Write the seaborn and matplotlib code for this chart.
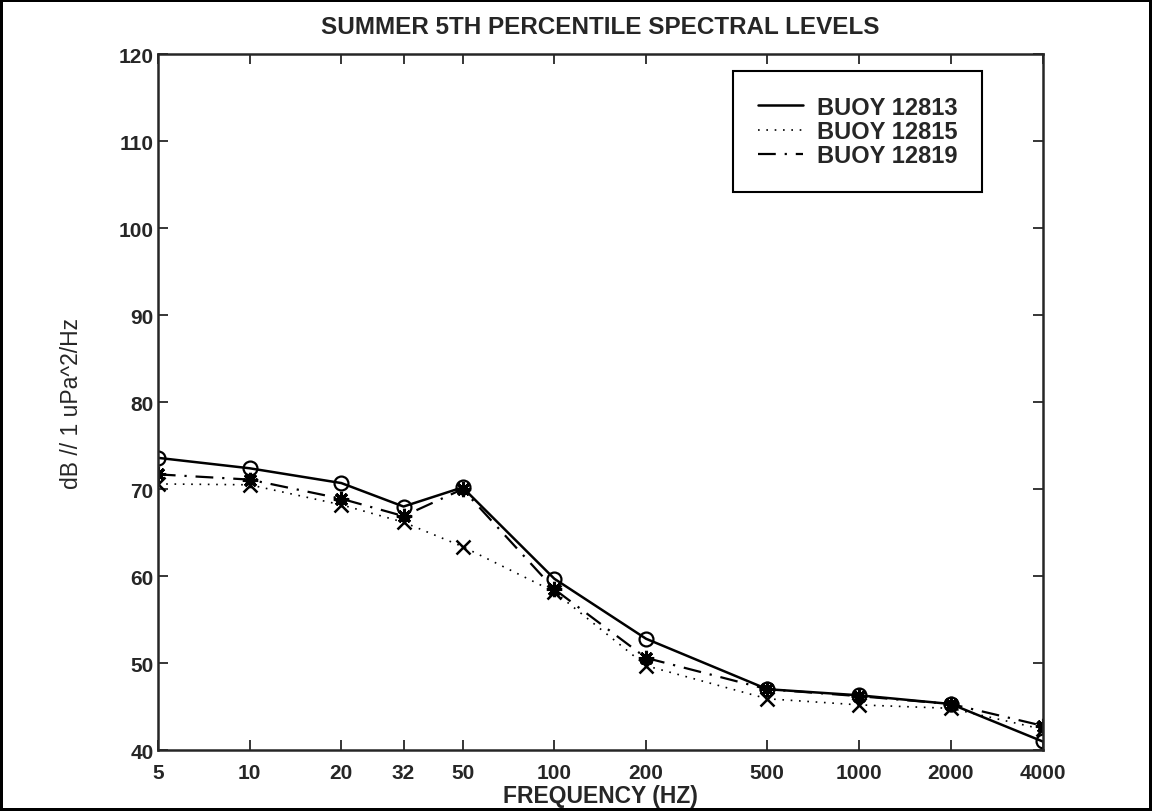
import matplotlib
matplotlib.use("Agg")
import matplotlib.pyplot as plt
from matplotlib.lines import Line2D
import seaborn as sns
import pandas as pd

# Frequency bands (Hz) and 5th percentile spectral levels per buoy (dB // 1 uPa^2/Hz)
freqs = [5, 10, 20, 32, 50, 100, 200, 500, 1000, 2000, 4000]
buoy_12813 = [73.6, 72.4, 70.7, 68.0, 70.2, 59.7, 52.8, 47.0, 46.3, 45.3, 41.0]
buoy_12815 = [70.6, 70.5, 68.2, 66.2, 63.4, 58.2, 49.7, 45.9, 45.2, 44.8, 42.4]
buoy_12819 = [71.7, 71.1, 68.9, 66.9, 70.0, 58.5, 50.6, 47.0, 46.2, 45.3, 42.8]
series_names = ["BUOY 12813", "BUOY 12815", "BUOY 12819"]
y_ticks = [40, 50, 60, 70, 80, 90, 100, 110, 120]

sns.set_style("ticks")
plt.rcParams["font.family"] = ["Liberation Sans", "DejaVu Sans"]
plt.rcParams["xtick.direction"] = "in"
plt.rcParams["ytick.direction"] = "in"

fig = plt.figure(figsize=(11.52, 8.12), dpi=100)
fig.patch.set_edgecolor("black")
fig.patch.set_linewidth(3)
ax = fig.add_axes([0.137, 0.075, 0.768, 0.857])

dotted = (0, (1, 4))
dashdot = (0, (8, 4, 1, 4))
styles = [
    dict(linestyle="-", marker="o", markerfacecolor="none", markeredgewidth=1.6,
         markersize=10, linewidth=1.8),
    dict(linestyle=dotted, marker="x", markeredgewidth=1.8,
         markersize=10, linewidth=1.2),
    dict(linestyle=dashdot, marker=(8, 2, 0), markeredgewidth=2.2,
         markersize=11, linewidth=1.6),
]

for name, vals, st in zip(series_names, [buoy_12813, buoy_12815, buoy_12819], styles):
    df = pd.DataFrame({"freq": freqs, "level": vals})
    sns.lineplot(data=df, x="freq", y="level", ax=ax, color="black",
                 markeredgecolor="black", **st)

ax.set_xscale("log")
ax.set_xlim(5, 4000)
ax.set_ylim(40, 120)
ax.set_xticks(freqs)
ax.set_xticklabels([str(f) for f in freqs])
ax.xaxis.set_minor_locator(matplotlib.ticker.NullLocator())
ax.set_yticks(y_ticks)
ax.tick_params(axis="both", which="major", top=True, right=True, length=7,
               width=1.3, labelsize=15)
ax.tick_params(axis="x", pad=9)
ax.tick_params(axis="y", pad=3)
for lab in ax.get_xticklabels() + ax.get_yticklabels():
    lab.set_fontweight("bold")
for sp in ax.spines.values():
    sp.set_visible(True)
    sp.set_linewidth(1.8)

ax.set_xlabel("FREQUENCY (HZ)", fontsize=16.5, fontweight="bold", labelpad=2)
ax.set_ylabel("dB // 1 uPa^2/Hz", fontsize=16.5, labelpad=26)
ax.set_title("SUMMER 5TH PERCENTILE SPECTRAL LEVELS", fontsize=17.5,
             fontweight="bold", pad=15)

handles = [
    Line2D([], [], color="black", linestyle="-", linewidth=1.8),
    Line2D([], [], color="black", linestyle=dotted, linewidth=1.2),
    Line2D([], [], color="black", linestyle=dashdot, linewidth=1.6),
]
leg = ax.legend(handles, series_names, loc="upper right",
                bbox_to_anchor=(0.932, 0.976), fancybox=False, framealpha=1,
                edgecolor="black", prop=dict(size=17, weight="bold"),
                handlelength=1.9, borderpad=1.05, labelspacing=0.05,
                handletextpad=0.6, borderaxespad=0)
leg.get_frame().set_linewidth(1.5)

fig.savefig("out.png", dpi=100)
